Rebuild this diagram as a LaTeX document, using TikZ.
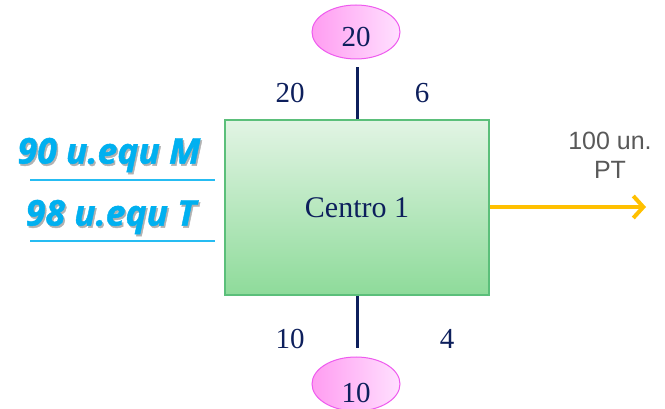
\documentclass[tikz,border=0pt]{standalone}
\usepackage{fontspec}
\setmainfont{Liberation Serif}
\newfontfamily\labelfont{Liberation Sans}
\newfontfamily\unitfont[BoldItalicFeatures={FakeBold=1.2}]{Open Sans}
\usetikzlibrary{shapes.geometric,arrows.meta}
\definecolor{navy}{HTML}{0D1F5C}
\definecolor{skyblue}{HTML}{00B0F0}
\definecolor{ptgray}{HTML}{595959}
\definecolor{ptorange}{HTML}{FFC000}
\definecolor{boxtop}{HTML}{E2F4E4}
\definecolor{boxbottom}{HTML}{8EDB9A}
\definecolor{boxline}{HTML}{5BBF7A}
\definecolor{pinkline}{HTML}{EE5AEE}
\newcommand{\shadowed}[1]{\rlap{\hspace{1.5pt}\raisebox{-2pt}{\textcolor{black!30}{#1}}}#1}
\tikzset{
  numlbl/.style={text=navy,font=\fontsize{29}{30}\selectfont},
  costpool/.style={ellipse,draw=pinkline,line width=1pt,minimum width=88pt,minimum height=54pt,
    inner sep=0pt,left color=pink!40!magenta!55,right color=magenta!12,text=navy,
    text depth=0pt,font=\fontsize{29}{30}\selectfont},
  unitlbl/.style={text=skyblue,font=\unitfont\bfseries\itshape\fontsize{35.5}{37}\selectfont},
}
\begin{document}
\begin{tikzpicture}[x=1pt,y=-1pt]
\useasboundingbox (0,0) rectangle (665,409);
\node[draw=boxline,line width=1.2pt,top color=boxtop,bottom color=boxbottom,minimum width=264pt,minimum height=175pt,
  inner sep=0pt,text=navy,font=\fontsize{30}{31}\selectfont] (centro) at (357,207.5) {Centro 1};
\node[costpool,text height=30pt] (poolup) at (356,32) {20};
\node[costpool,text height=36pt] (pooldown) at (356,384) {10};
\coordinate (upend) at (357,67);
\coordinate (downend) at (357,348);
\draw[navy,line width=3pt] (centro.north -| upend) -- (upend);
\draw[navy,line width=3pt] (centro.south -| downend) -- (downend);
\node[numlbl] (inl) at (290,93) {20}; \node[numlbl] (inr) at (422,93) {6};
\node[numlbl] (outl) at (290,339) {10}; \node[numlbl] (outr) at (447,339) {4};
% units consumed
\node[unitlbl] (unitm) at (109,156) {\shadowed{90 u.equ M}};
\node[unitlbl] (unitt) at (111,218) {\shadowed{98 u.equ T}};
\draw[skyblue!85,line width=1.3pt] (30,180) -- (215,180);
\draw[skyblue!85,line width=1.3pt] (30,241) -- (215,241);
% output
\coordinate (ptend) at (646,207);
\draw[ptorange,line width=4pt,-{Straight Barb[length=10pt,width=22pt,line width=4pt]}] (centro.east |- ptend) -- (ptend);
\node[text=ptgray,font=\labelfont\fontsize{25}{29}\selectfont,align=center] (ptlbl) at (610,155) {100 un.\\PT};
\end{tikzpicture}
\end{document}
